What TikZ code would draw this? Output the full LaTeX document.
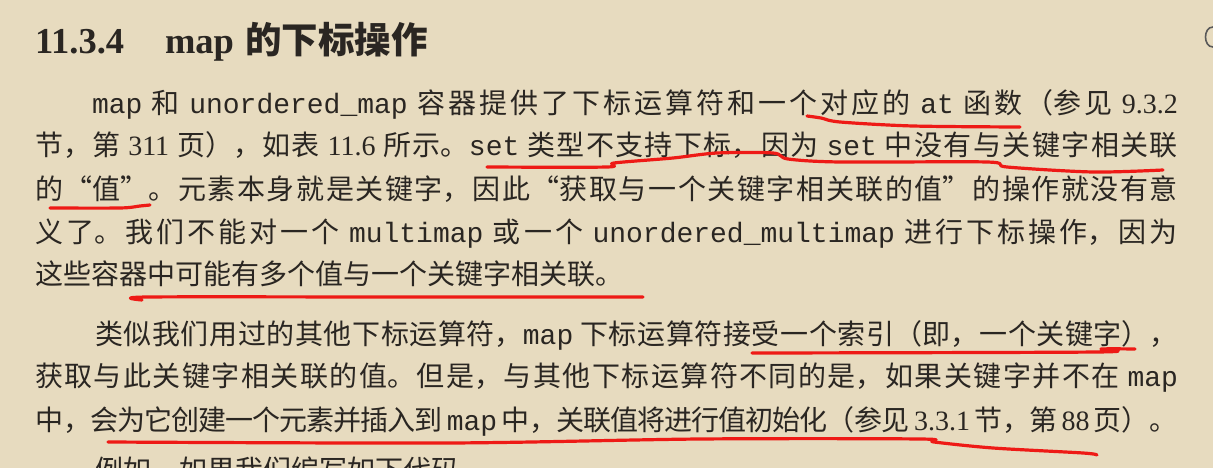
\documentclass[tikz,border=0pt]{standalone}
\usepackage{fontspec}
\setmainfont{Noto Sans CJK SC}
\setmonofont{Liberation Mono}
\newfontfamily\latin{Liberation Serif}
\XeTeXlinebreaklocale "zh"
\XeTeXlinebreakskip=0pt plus 3pt minus 1pt
\definecolor{paper}{RGB}{231,219,191}
\definecolor{ink}{RGB}{42,38,34}
\definecolor{pen}{RGB}{238,26,22}
\newcommand\nm[1]{{\latin #1}}
\newcommand\cd[1]{\texttt{#1}}
\newcommand\jline[2]{\parbox[b]{#1}{\tolerance=10000\hbadness=10000\parfillskip=0pt\relax\noindent #2}}
\begin{document}
\begin{tikzpicture}[x=1pt,y=-1pt,
  txt/.style={anchor=base west,inner sep=0pt,outer sep=0pt,text=ink,font=\fontsize{28}{34}\selectfont},
  ttl/.style={anchor=base west,inner sep=0pt,outer sep=0pt,text=ink,font=\fontsize{36.5}{40}\selectfont\bfseries},
  redpen/.style={draw=pen,line width=3.2pt,line cap=round,line join=round}]
\useasboundingbox (0,0) rectangle (1213,468);
\fill[paper] (0,0) rectangle (1213,468);
% heading
\node[ttl] (tnum) at (35,54) {\latin 11.3.4};
\node[ttl] (tmap) at (165,54) {\latin map};
\node[ttl] (tcjk) at (245,54) {的下标操作};
\draw[gray!70!black,line width=1.6pt] (1213,27) .. controls (1203,27) and (1203,47) .. (1213,47);
% paragraph 1
\node[txt] (l1) at (92,114) {\jline{1086pt}{\cd{map} 和 \cd{unordered\_map} 容器提供了下标运算符和一个对应的 \cd{at} 函数（参见 \nm{9.3.2}}};
\node[txt] (l2) at (35,156) {\jline{1143pt}{节，第 \nm{311} 页），如表 \nm{11.6} 所示。\cd{set} 类型不支持下标，因为 \cd{set} 中没有与关键字相关联}};
\node[txt] (l3) at (35,199) {\jline{1143pt}{的“值”。元素本身就是关键字，因此“获取与一个关键字相关联的值”的操作就没有意}};
\node[txt] (l4) at (35,242) {\jline{1143pt}{义了。我们不能对一个 \cd{multimap} 或一个 \cd{unordered\_multimap} 进行下标操作，因为}};
\node[txt] (l5) at (35,284) {这些容器中可能有多个值与一个关键字相关联。};
% paragraph 2
\node[txt] (l6) at (95,344) {\jline{1083pt}{类似我们用过的其他下标运算符，\cd{map} 下标运算符接受一个索引（即，一个关键字），}};
\node[txt] (l7) at (35,386) {\jline{1143pt}{获取与此关键字相关联的值。但是，与其他下标运算符不同的是，如果关键字并不在 \cd{map}}};
\node[txt] (l8) at (35,430) {\jline{1143pt}{中，会为它创建一个元素并插入到 \cd{map} 中，关联值将进行值初始化（参见 \nm{3.3.1} 节，第 \nm{88} 页）。}};
\node[txt] (l9) at (95,480) {例如，如果我们编写如下代码};
% red pen underlines
\draw[redpen] plot[smooth,tension=0.5] coordinates {(807,116) (821,118) (840,122) (913,126) (1020,127)};
\draw[redpen] plot[smooth,tension=0.5] coordinates {(487,167) (607,167) (614,163) (673,158) (717,153) (773,153) (788,159) (840,162) (987,162) (1007,167) (1093,172) (1163,170)};
\draw[redpen] plot[smooth,tension=0.5] coordinates {(50,208) (120,208) (140,206) (150,205)};
\draw[redpen] plot[smooth,tension=0.5] coordinates {(142,300) (148,297) (400,297) (643,297)};
\draw[redpen] plot[smooth,tension=0.5] coordinates {(752,353) (1097,352) (1101,349) (1135,349)};
\draw[redpen] plot[smooth,tension=0.5] coordinates {(108,442) (450,443) (700,439) (920,439) (934,442) (993,448) (1083,453) (1097,455)};
\end{tikzpicture}
\end{document}
